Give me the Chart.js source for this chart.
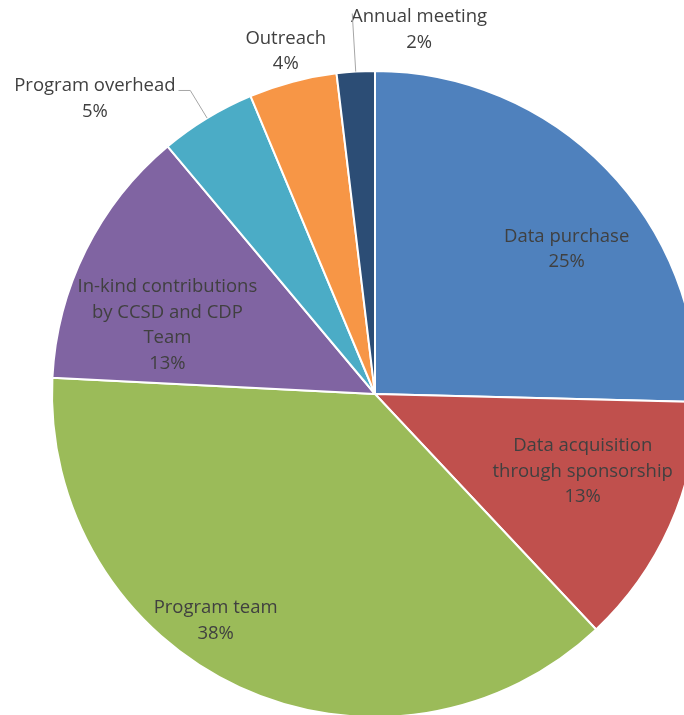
<!DOCTYPE html>
<html>
<head>
<meta charset="utf-8">
<script src="https://cdn.jsdelivr.net/npm/chart.js"></script>
<style>
  html, body { margin: 0; padding: 0; background: #fff; overflow: hidden; width: 684px; height: 715px; }
  #wrap { position: absolute; left: 0; top: 0; }
</style>
</head>
<body>
<div id="wrap"><canvas id="pie" width="750" height="788"></canvas></div>
<script>
// data, clockwise from 12 o'clock
const categories = ['Data purchase', 'Data acquisition through sponsorship', 'Program team',
  'In-kind contributions by CCSD and CDP Team', 'Program overhead', 'Outreach', 'Annual meeting']
const shares = [25.4, 12.6, 37.8, 13.1, 4.8, 4.4, 1.9]
const labelLines = [
  ['Data purchase'],
  ['Data acquisition', 'through sponsorship'],
  ['Program team'],
  ['In-kind contributions', 'by CCSD and CDP', 'Team'],
  ['Program overhead'],
  ['Outreach'],
  ['Annual meeting']
]
const sliceColors = ['#4F81BD', '#C0504D', '#9BBB59', '#8064A2', '#4BACC6', '#F79646', '#2C4D75']

// where each label block sits: angle from top (deg) and distance as fraction of radius
const labelPos = [
  {ang: 52.9, dist: 0.744},
  {ang: 110.4, dist: 0.686},
  {ang: 215.1, dist: 0.858},
  {ang: 288.3, dist: 0.677},
  {ang: 316.5, dist: 1.26, leader: 1.10},
  {ang: 345.4, dist: 1.096},
  {ang: 6.9, dist: 1.136, leader: 1.18}
]

const pieLabels = {
  id: 'pieLabels',
  afterDatasetsDraw(chart) {
    const ctx = chart.ctx
    const arcs = chart.getDatasetMeta(0).data
    const total = shares.reduce((a, b) => a + b, 0)
    ctx.save()
    ctx.font = '18.5px "Open Sans"'
    ctx.fillStyle = '#404040'
    ctx.textAlign = 'center'
    ctx.textBaseline = 'middle'
    const lh = 25.5
    arcs.forEach((arc, i) => {
      const p = arc.getProps(['x', 'y', 'startAngle', 'endAngle', 'outerRadius'], true)
      const lp = labelPos[i]
      const a = lp.ang * Math.PI / 180 - Math.PI / 2
      const cx = p.x + Math.cos(a) * p.outerRadius * lp.dist
      const cy = p.y + Math.sin(a) * p.outerRadius * lp.dist
      const lines = labelLines[i].concat([Math.round(shares[i] / total * 100) + '%'])
      const y0 = cy - (lines.length - 1) * lh / 2
      lines.forEach((t, k) => ctx.fillText(t, cx, y0 + k * lh))

      // leader line from the slice edge to the label
      if (lp.leader) {
        const mid = (p.startAngle + p.endAngle) / 2
        const ex = p.x + Math.cos(mid) * p.outerRadius
        const ey = p.y + Math.sin(mid) * p.outerRadius
        const bx = p.x + Math.cos(mid) * p.outerRadius * lp.leader
        const by = p.y + Math.sin(mid) * p.outerRadius * lp.leader
        const w = ctx.measureText(labelLines[i][0]).width
        ctx.strokeStyle = '#A6A6A6'
        ctx.lineWidth = 1
        ctx.beginPath()
        ctx.moveTo(ex, ey)
        ctx.lineTo(bx, by)
        if (bx > cx + w / 2) ctx.lineTo(cx + w / 2 + 3, by)
        ctx.stroke()
      }
    })
    ctx.restore()
  }
}

new Chart(document.getElementById('pie'), {
  type: 'pie',
  data: {
    labels: categories,
    datasets: [{
      data: shares,
      backgroundColor: sliceColors,
      borderColor: '#FFFFFF',
      borderWidth: 2
    }]
  },
  options: {
    responsive: false,
    animation: false,
    devicePixelRatio: 1,
    layout: { padding: { left: 51, right: 51, top: 70, bottom: 70 } },
    plugins: {
      legend: { display: false },
      tooltip: { enabled: false }
    }
  },
  plugins: [pieLabels]
})
</script>
</body>
</html>
